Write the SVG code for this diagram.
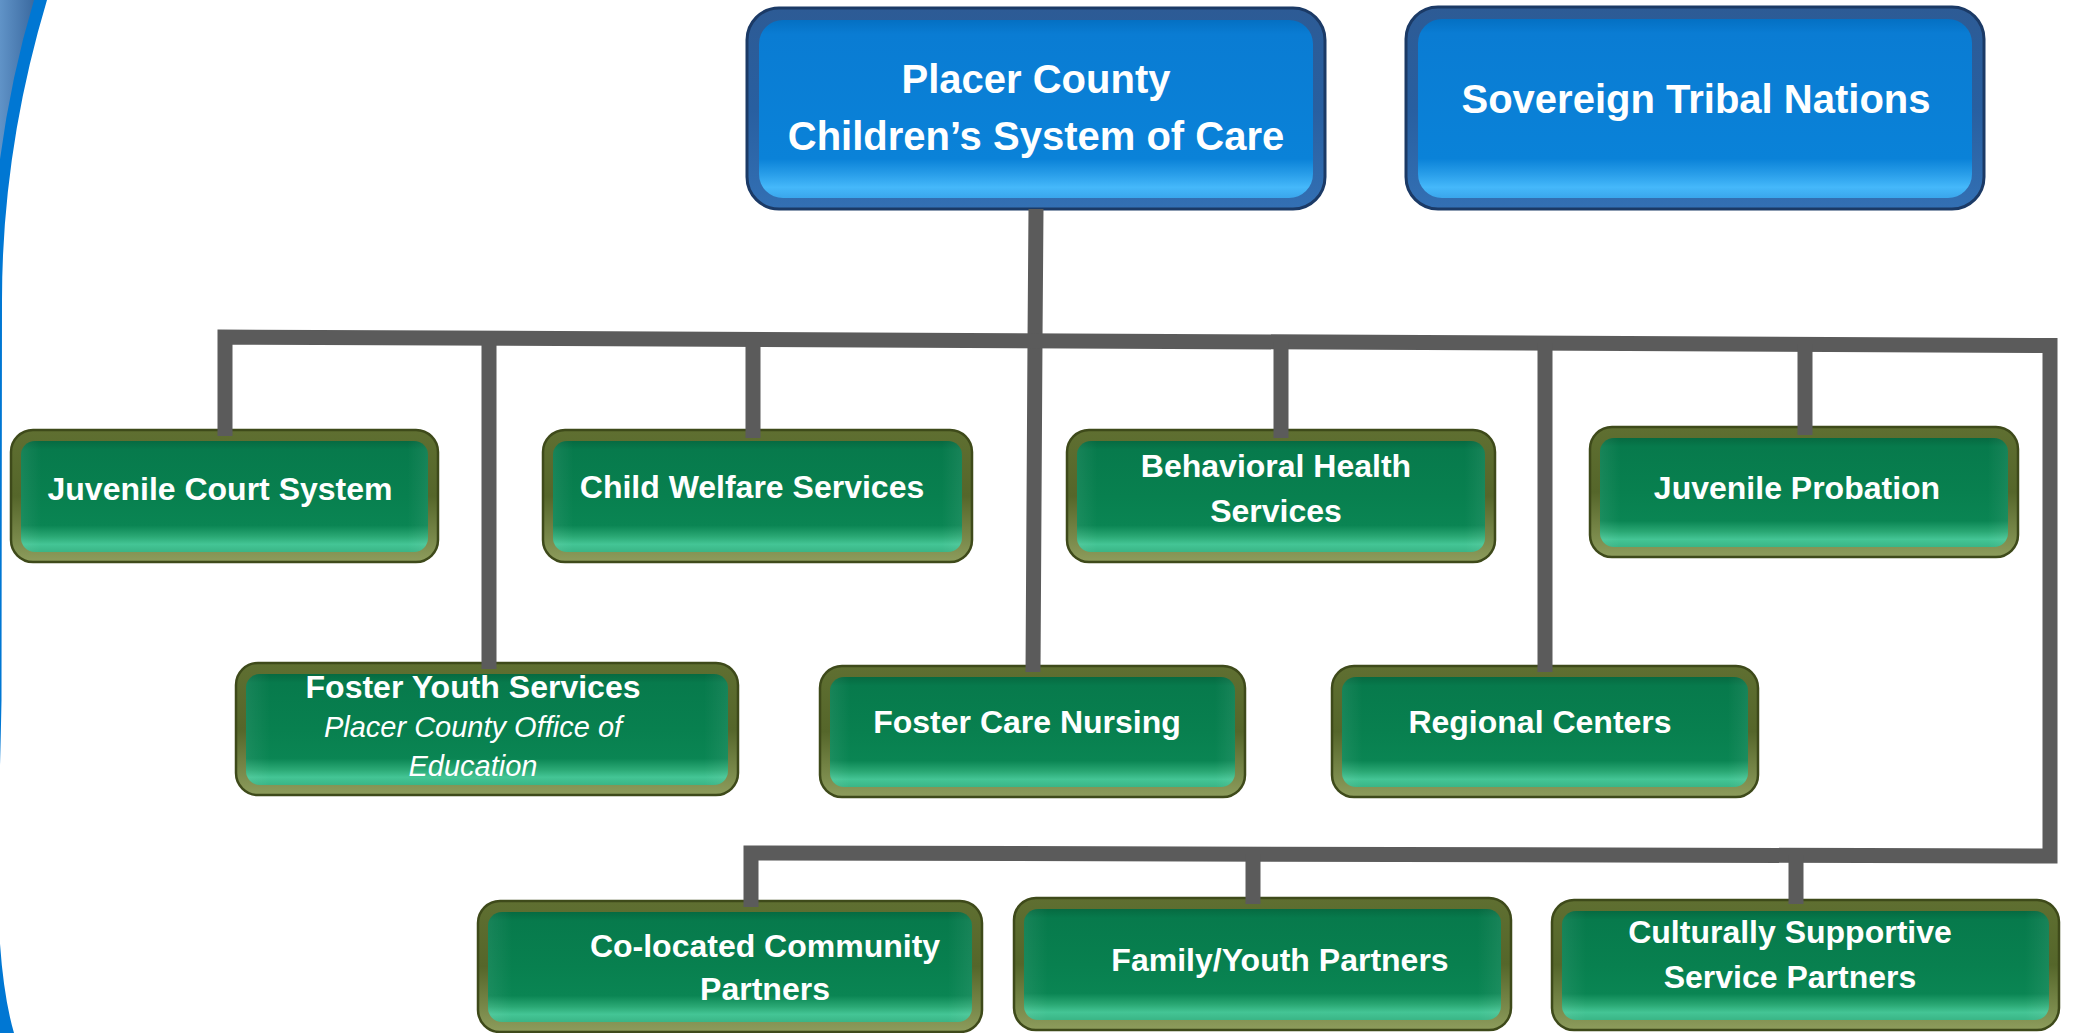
<svg xmlns="http://www.w3.org/2000/svg" width="2075" height="1033" viewBox="0 0 2075 1033">
<defs>
<linearGradient id="blueRim" x1="0" y1="0" x2="0" y2="1">
<stop offset="0" stop-color="#2d5b95"/><stop offset="0.5" stop-color="#285fa0"/><stop offset="1" stop-color="#3370b4"/>
</linearGradient>
<linearGradient id="blueFill" x1="0" y1="0" x2="0" y2="1">
<stop offset="0" stop-color="#0470c3"/><stop offset="0.08" stop-color="#0a7cd3"/><stop offset="0.78" stop-color="#0a82d8"/><stop offset="0.87" stop-color="#2a9fea"/><stop offset="0.94" stop-color="#45b8fa"/><stop offset="1" stop-color="#3aa6ec"/>
</linearGradient>
<linearGradient id="greenRim" x1="0" y1="0" x2="0" y2="1">
<stop offset="0" stop-color="#5f6f31"/><stop offset="0.5" stop-color="#55662a"/><stop offset="1" stop-color="#8d9c5c"/>
</linearGradient>
<linearGradient id="greenFill" x1="0" y1="0" x2="0" y2="1">
<stop offset="0" stop-color="#066a41"/><stop offset="0.08" stop-color="#077a4c"/><stop offset="0.5" stop-color="#08804f"/><stop offset="0.76" stop-color="#0a8553"/><stop offset="0.86" stop-color="#2aa874"/><stop offset="0.93" stop-color="#44c595"/><stop offset="1" stop-color="#3ab586"/>
</linearGradient>
<linearGradient id="sideGlow" x1="0" y1="0" x2="1" y2="0">
<stop offset="0" stop-color="#ffffff" stop-opacity="0.07"/><stop offset="0.05" stop-color="#ffffff" stop-opacity="0"/><stop offset="0.95" stop-color="#ffffff" stop-opacity="0"/><stop offset="1" stop-color="#ffffff" stop-opacity="0.07"/>
</linearGradient>
<linearGradient id="cornerGrad" x1="0" y1="0" x2="1" y2="0">
<stop offset="0" stop-color="#6b9fd3"/><stop offset="1" stop-color="#3b6aa0"/>
</linearGradient>
<style>
.brim{fill:url(#blueRim);stroke:#1b3a66;stroke-width:3}
.bfill{fill:url(#blueFill)}
.grim{fill:url(#greenRim);stroke:#3e4a1a;stroke-width:2.5}
.gfill{fill:url(#greenFill)}
.gglow{fill:url(#sideGlow)}
.t{font-family:"Liberation Sans",Arial,sans-serif;font-weight:bold;fill:#ffffff;text-anchor:middle}
.tb{font-size:40px}
.tg{font-size:32px}
.ti{font-family:"Liberation Sans",Arial,sans-serif;font-style:italic;font-size:29px;fill:#ffffff;text-anchor:middle}
</style>
</defs>
<rect x="0" y="0" width="2075" height="1033" fill="#ffffff"/>
<g id="decor">
<path d="M-5 0 L47 0 Q2 150 2 300 L1.5 700 Q0 780 -2 820 L-2 900 Q0 985 14 1033 L-5 1033 Z" fill="#0077d3"/>
<path d="M-5 0 L34 0 Q-8 140 -10 300 L-5 300 Z" fill="url(#cornerGrad)"/>
</g>

<g id="node-placer">
<rect class="brim" x="747" y="8" width="578" height="201" rx="32"/>
<rect class="bfill" x="759" y="20" width="554" height="178" rx="24"/>
<text class="t tb" x="1036" y="93">Placer County</text>
<text class="t tb" x="1036" y="150">Children’s System of Care</text>
</g>

<g id="node-tribal">
<rect class="brim" x="1406" y="7" width="578" height="202" rx="32"/>
<rect class="bfill" x="1418" y="19" width="554" height="179" rx="24"/>
<text class="t tb" x="1696" y="113">Sovereign Tribal Nations</text>
</g>

<g id="node-juvenile-court">
<rect class="grim" x="11" y="430" width="427" height="132" rx="22"/>
<rect class="gfill" x="21" y="441" width="407" height="111" rx="14"/>
<rect class="gglow" x="21" y="441" width="407" height="111" rx="14"/>
<text class="t tg" x="220" y="500">Juvenile Court System</text>
</g>

<g id="node-child-welfare">
<rect class="grim" x="543" y="430" width="429" height="132" rx="22"/>
<rect class="gfill" x="553" y="441" width="409" height="111" rx="14"/>
<rect class="gglow" x="553" y="441" width="409" height="111" rx="14"/>
<text class="t tg" x="752" y="498">Child Welfare Services</text>
</g>

<g id="node-behavioral-health">
<rect class="grim" x="1067" y="430" width="428" height="132" rx="22"/>
<rect class="gfill" x="1077" y="441" width="408" height="111" rx="14"/>
<rect class="gglow" x="1077" y="441" width="408" height="111" rx="14"/>
<text class="t tg" x="1276" y="477">Behavioral Health</text>
<text class="t tg" x="1276" y="522">Services</text>
</g>

<g id="node-juvenile-probation">
<rect class="grim" x="1590" y="427" width="428" height="130" rx="22"/>
<rect class="gfill" x="1600" y="438" width="408" height="109" rx="14"/>
<rect class="gglow" x="1600" y="438" width="408" height="109" rx="14"/>
<text class="t tg" x="1797" y="499">Juvenile Probation</text>
</g>

<g id="node-foster-youth">
<rect class="grim" x="236" y="663" width="502" height="132" rx="22"/>
<rect class="gfill" x="246" y="674" width="482" height="111" rx="14"/>
<rect class="gglow" x="246" y="674" width="482" height="111" rx="14"/>
<text class="t tg" x="473" y="698">Foster Youth Services</text>
<text class="ti" x="473" y="737">Placer County Office of</text>
<text class="ti" x="473" y="776">Education</text>
</g>

<g id="node-foster-care-nursing">
<rect class="grim" x="820" y="666" width="425" height="131" rx="22"/>
<rect class="gfill" x="830" y="677" width="405" height="110" rx="14"/>
<rect class="gglow" x="830" y="677" width="405" height="110" rx="14"/>
<text class="t tg" x="1027" y="733">Foster Care Nursing</text>
</g>

<g id="node-regional-centers">
<rect class="grim" x="1332" y="666" width="426" height="131" rx="22"/>
<rect class="gfill" x="1342" y="677" width="406" height="110" rx="14"/>
<rect class="gglow" x="1342" y="677" width="406" height="110" rx="14"/>
<text class="t tg" x="1540" y="733">Regional Centers</text>
</g>

<g id="node-co-located">
<rect class="grim" x="478" y="901" width="504" height="131" rx="22"/>
<rect class="gfill" x="488" y="912" width="484" height="110" rx="14"/>
<rect class="gglow" x="488" y="912" width="484" height="110" rx="14"/>
<text class="t tg" x="765" y="957">Co-located Community</text>
<text class="t tg" x="765" y="1000">Partners</text>
</g>

<g id="node-family-youth">
<rect class="grim" x="1014" y="898" width="497" height="132" rx="22"/>
<rect class="gfill" x="1024" y="909" width="477" height="111" rx="14"/>
<rect class="gglow" x="1024" y="909" width="477" height="111" rx="14"/>
<text class="t tg" x="1280" y="971">Family/Youth Partners</text>
</g>

<g id="node-culturally-supportive">
<rect class="grim" x="1552" y="900" width="507" height="130" rx="22"/>
<rect class="gfill" x="1562" y="911" width="487" height="109" rx="14"/>
<rect class="gglow" x="1562" y="911" width="487" height="109" rx="14"/>
<text class="t tg" x="1790" y="943">Culturally Supportive</text>
<text class="t tg" x="1790" y="988">Service Partners</text>
</g>

<g id="connectors" fill="none" stroke="#5b5b5b" stroke-width="15" stroke-linejoin="miter">
<path d="M1036 209 L1035 340 L1033 672"/>
<path d="M225 436 L225 337 L2050 345.5 L2050 856 L751 853 L751 907"/>
<path d="M489 339 L489 669"/>
<path d="M753 340 L753 438"/>
<path d="M1281 342 L1281 438"/>
<path d="M1545 343 L1545 672"/>
<path d="M1805 344 L1805 435"/>
<path d="M1253 854 L1253 904"/>
<path d="M1796 855 L1796 904"/>
</g>
</svg>
